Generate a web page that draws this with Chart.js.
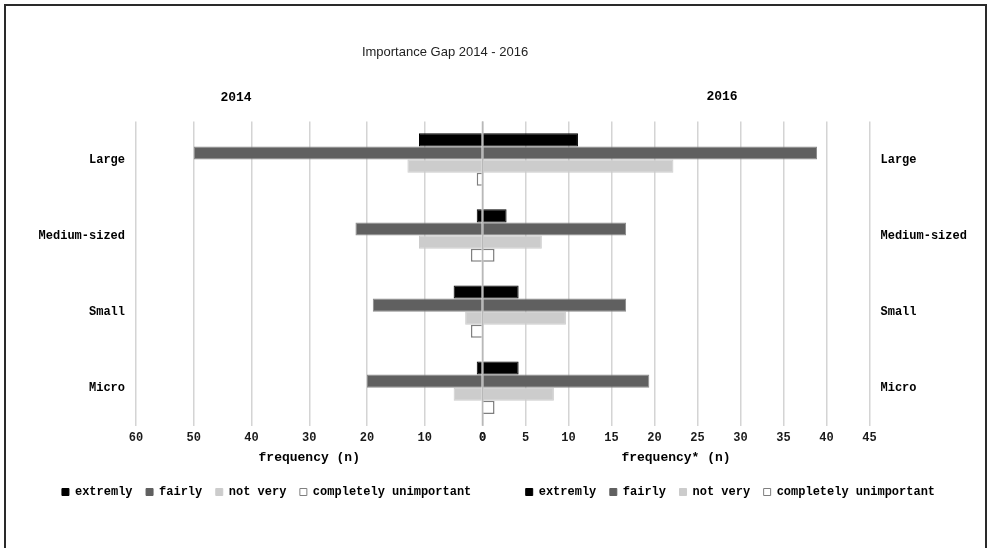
<!DOCTYPE html>
<html>
<head>
<meta charset="utf-8">
<script src="https://cdn.jsdelivr.net/npm/chart.js@4.4.1/dist/chart.umd.min.js"></script>
<style>
  html, body { margin: 0; padding: 0; background: #fff; overflow: hidden; }
  #wrap { position: relative; width: 988px; height: 548px; }
  #frame { position: absolute; left: 4px; top: 4px; width: 979px; height: 600px; border: 2px solid #2a2a2a; border-bottom: none; pointer-events: none; }
</style>
</head>
<body>
<div id="wrap">
  <canvas id="gap" width="988" height="548"></canvas>
  <div id="frame"></div>
</div>
<script>
const chartTitle = 'Importance Gap 2014 - 2016';
const yearLeft = '2014';
const yearRight = '2016';
const categories = ['Large', 'Medium-sized', 'Small', 'Micro'];
const levels = ['extremly', 'fairly', 'not very', 'completely unimportant'];

// 2014 : counts
const extremly2014 = [11, 1, 5, 1];
const fairly2014 = [50, 22, 19, 20];
const notVery2014 = [13, 11, 3, 5];
const unimportant2014 = [1, 2, 2, 0];

// 2016 : frequency*
const extremly2016 = [11.1, 2.8, 4.2, 4.2];
const fairly2016 = [38.9, 16.7, 16.7, 19.4];
const notVery2016 = [22.2, 6.9, 9.7, 8.3];
const unimportant2016 = [0, 1.4, 0, 1.4];

const ticks2014 = { min: 0, max: 60, step: 10 };
const ticks2016 = { min: 0, max: 45, step: 5 };

const mono = "'Liberation Mono', 'DejaVu Sans Mono', monospace";
const fills = ['#000000', '#606060', '#cccccc', '#ffffff'];
const borders = ['#000000', '#8a8a8a', '#cccccc', '#7f7f7f'];

function makeSet(i, data, axis) {
    return {
        label: levels[i],
        data: data,
        xAxisID: axis,
        yAxisID: 'y',
        stack: 'lvl' + i,
        backgroundColor: fills[i],
        borderColor: borders[i],
        borderWidth: i === 3 ? 1.5 : 1,
        borderSkipped: 'start'
    };
}

const headings = {
    id: 'headings',
    afterDraw(chart) {
        const { ctx, chartArea } = chart;
        ctx.save();
        // zero line over the bars
        const x0 = chart.scales.x2.getPixelForValue(0);
        ctx.strokeStyle = '#b8b8b8';
        ctx.lineWidth = 1.5;
        ctx.beginPath();
        ctx.moveTo(x0, chartArea.top);
        ctx.lineTo(x0, chartArea.bottom);
        ctx.stroke();

        ctx.textAlign = 'center';
        ctx.textBaseline = 'middle';
        ctx.fillStyle = '#222';
        ctx.font = '13px "Liberation Sans", Arial, sans-serif';
        ctx.fillText(chartTitle, 445, 52);
        ctx.fillStyle = '#000';
        ctx.font = 'bold 13px "Liberation Mono", monospace';
        ctx.fillText(yearLeft, 236, 98);
        ctx.fillText(yearRight, 722, 97);
        ctx.restore();
    }
};

const tickFont = { family: mono, size: 12, weight: 'bold' };
const titleFont = { family: mono, size: 13, weight: 'bold' };

new Chart(document.getElementById('gap'), {
    type: 'bar',
    data: {
        labels: categories,
        datasets: [
            makeSet(0, extremly2014, 'x1'),
            makeSet(1, fairly2014, 'x1'),
            makeSet(2, notVery2014, 'x1'),
            makeSet(3, unimportant2014, 'x1'),
            makeSet(0, extremly2016, 'x2'),
            makeSet(1, fairly2016, 'x2'),
            makeSet(2, notVery2016, 'x2'),
            makeSet(3, unimportant2016, 'x2')
        ]
    },
    plugins: [headings],
    options: {
        responsive: false,
        animation: false,
        indexAxis: 'y',
        categoryPercentage: 0.69,
        barPercentage: 1,
        layout: { padding: { left: 9, right: 0, top: 121.5, bottom: 40 } },
        plugins: {
            title: { display: false },
            tooltip: { enabled: false },
            legend: {
                position: 'bottom',
                labels: {
                    font: tickFont,
                    color: '#000',
                    boxWidth: 7,
                    boxHeight: 7,
                    padding: 13.5,
                    generateLabels(chart) {
                        const items = chart.data.datasets.map((ds, i) => ({
                            text: ds.label,
                            fillStyle: ds.backgroundColor,
                            strokeStyle: i % 4 === 3 ? '#7f7f7f' : ds.backgroundColor,
                            lineWidth: 1,
                            hidden: false,
                            datasetIndex: i,
                            fontColor: '#000'
                        }));
                        // blank gap between the two year groups
                        items.splice(4, 0, { text: '  ', fillStyle: 'rgba(0,0,0,0)', strokeStyle: 'rgba(0,0,0,0)', lineWidth: 0, hidden: false, fontColor: '#000' });
                        return items;
                    }
                }
            }
        },
        scales: {
            x1: {
                axis: 'x',
                type: 'linear',
                position: 'bottom',
                stack: 'years',
                stackWeight: 346.5,
                reverse: true,
                min: ticks2014.min,
                max: ticks2014.max,
                ticks: { stepSize: ticks2014.step, autoSkip: false, font: tickFont, color: '#1a1a1a', padding: 5, maxRotation: 0 },
                grid: { color: '#d4d4d4', lineWidth: 1.5, drawTicks: false },
                border: { display: false },
                title: { display: true, text: 'frequency (n)', font: titleFont, color: '#000', padding: { top: 0, bottom: 6.8 } }
            },
            x2: {
                axis: 'x',
                type: 'linear',
                position: 'bottom',
                stack: 'years',
                stackWeight: 387,
                min: ticks2016.min,
                max: ticks2016.max,
                ticks: { stepSize: ticks2016.step, autoSkip: false, font: tickFont, color: '#1a1a1a', padding: 5, maxRotation: 0 },
                grid: { color: '#d4d4d4', lineWidth: 1.5, drawTicks: false },
                border: { display: false },
                title: { display: true, text: 'frequency* (n)', font: titleFont, color: '#000', padding: { top: 0, bottom: 6.8 } }
            },
            y: {
                type: 'category',
                position: 'left',
                offset: true,
                afterFit(s) { s.width = 127; },
                grid: { display: false, drawTicks: false },
                border: { display: false },
                ticks: { font: tickFont, color: '#000', padding: 11 }
            },
            y2: {
                axis: 'y',
                type: 'category',
                position: 'right',
                offset: true,
                afterFit(s) { s.width = 118.5; },
                grid: { display: false, drawTicks: false },
                border: { display: false },
                ticks: { font: tickFont, color: '#000', padding: 11 }
            }
        }
    }
});
</script>
</body>
</html>
